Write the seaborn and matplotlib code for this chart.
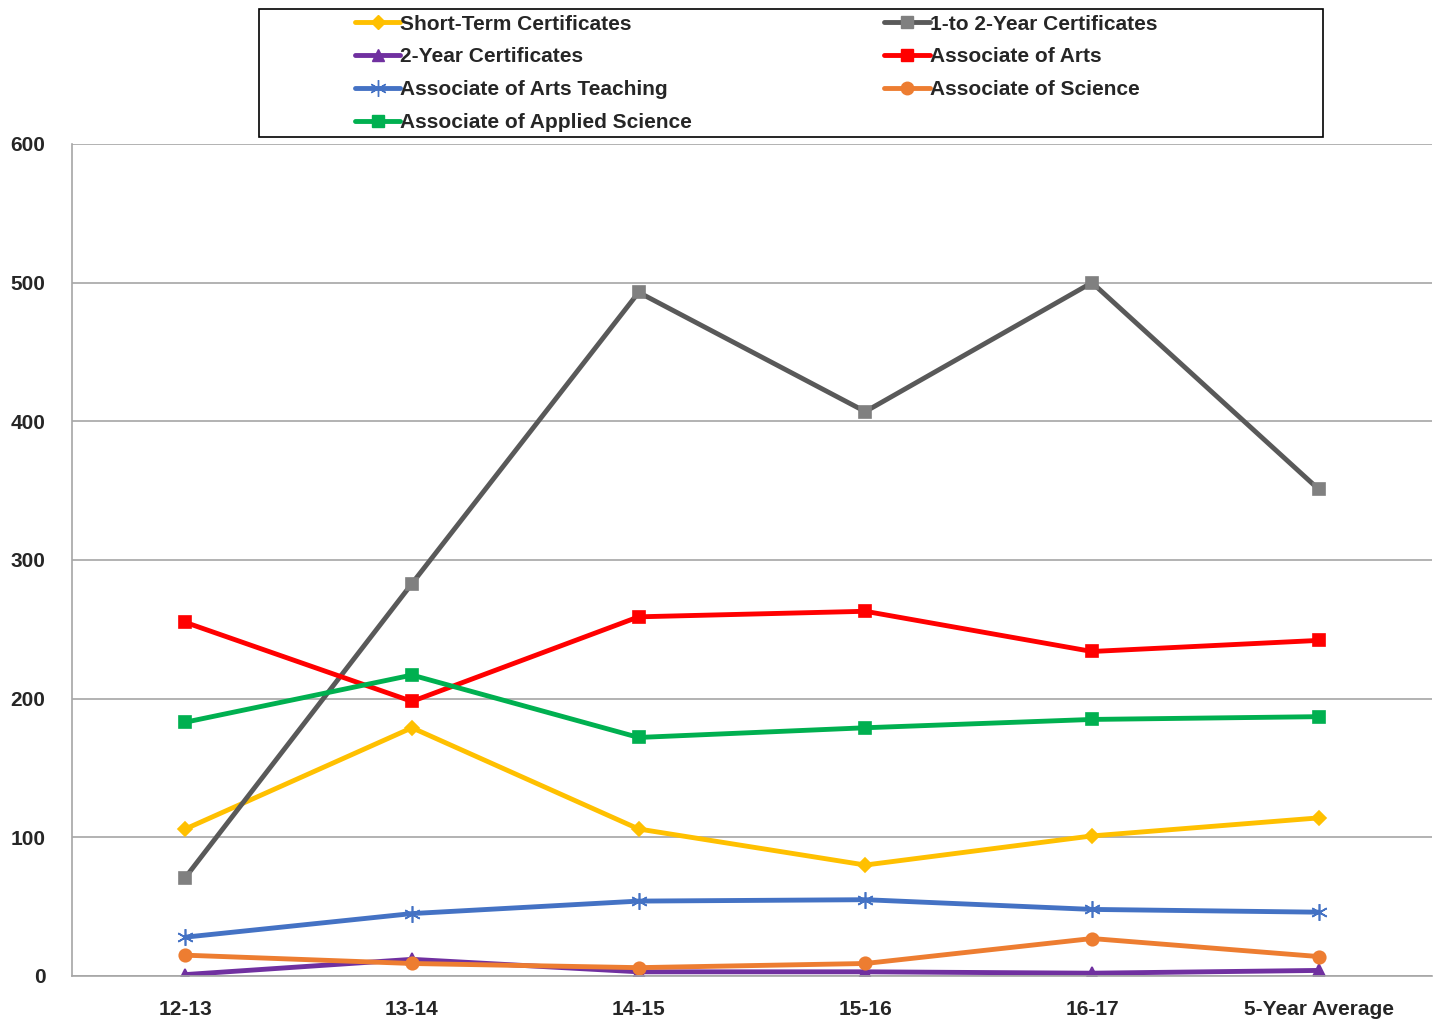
import numpy as np
import pandas as pd
import matplotlib
matplotlib.use("Agg")
import matplotlib.pyplot as plt
import seaborn as sns
from matplotlib.lines import Line2D
from matplotlib.patches import Rectangle

years = ['12-13', '13-14', '14-15', '15-16', '16-17', '5-Year Average']

short_term = [106, 179, 106, 80, 101, 114]
one_to_two = [71, 283, 493, 407, 500, 351]
two_year = [1, 12, 3, 3, 2, 4]
assoc_arts = [255, 198, 259, 263, 234, 242]
assoc_arts_teach = [28, 45, 54, 55, 48, 46]
assoc_sci = [15, 9, 6, 9, 27, 14]
assoc_applied = [183, 217, 172, 179, 185, 187]

series_names = ['Short-Term Certificates', '1-to 2-Year Certificates', '2-Year Certificates',
                'Associate of Arts', 'Associate of Arts Teaching', 'Associate of Science',
                'Associate of Applied Science']
series_vals = [short_term, one_to_two, two_year, assoc_arts, assoc_arts_teach, assoc_sci, assoc_applied]

# line colour, marker colour, marker, marker size
styles = {
    'Short-Term Certificates': ('#FFC000', '#FFC000', 'D', 7),
    '1-to 2-Year Certificates': ('#595959', '#808080', 's', 9),
    '2-Year Certificates': ('#7030A0', '#7030A0', '^', 9),
    'Associate of Arts': ('#FF0000', '#FF0000', 's', 9),
    'Associate of Arts Teaching': ('#4472C4', '#4472C4', (6, 2, 0), 12),
    'Associate of Science': ('#ED7D31', '#ED7D31', 'o', 9),
    'Associate of Applied Science': ('#00B050', '#00B050', 's', 9),
}

sns.set_style("white")
plt.rcParams['font.family'] = ['Liberation Sans', 'DejaVu Sans']

fig = plt.figure(figsize=(14.37, 10.21), dpi=100)
ax = fig.add_axes([0.0501, 0.0441, 0.9464, 0.8149])

handles = {}
for name, vals in zip(series_names, series_vals):
    lc, mc, mk, ms = styles[name]
    df = pd.DataFrame({'year': years, 'value': vals})
    sns.lineplot(data=df, x='year', y='value', ax=ax, color=lc, linewidth=3.5,
                 marker=mk, markersize=ms, markerfacecolor=mc, markeredgecolor=mc,
                 markeredgewidth=1.2, sort=False)
    handles[name] = Line2D([0], [0], color=lc, linewidth=3.5, marker=mk, markersize=ms,
                           markerfacecolor=mc, markeredgecolor=mc, label=name)

ax.set_xlim(-0.5, 5.5)
ax.set_ylim(0, 600)
ax.set_yticks(range(0, 601, 100))
ax.set_xlabel('')
ax.set_ylabel('')
ax.grid(axis='y', color='#A6A6A6', linewidth=1.2)
ax.set_axisbelow(True)
for s in ['top', 'right']:
    ax.spines[s].set_visible(False)
for s in ['left', 'bottom']:
    ax.spines[s].set_color('#A6A6A6')
    ax.spines[s].set_linewidth(1.2)

ax.set_xticks(range(len(years)))
ax.set_xticklabels(years, fontsize=15, fontweight='bold')
ax.set_xticks(np.arange(-0.5, 6, 1), minor=True)
ax.tick_params(axis='x', which='major', length=0, pad=17)
ax.tick_params(axis='x', which='minor', length=7, color='#A6A6A6', width=1.2)
ax.tick_params(axis='y', length=7, color='#A6A6A6', width=1.2, labelsize=15, pad=12)
for lbl in ax.get_yticklabels():
    lbl.set_fontweight('bold')

# legend entries row by row, as in the reference (matplotlib fills columns first)
order = [0, 2, 4, 6, 1, 3, 5]
leg_handles = [handles[series_names[i]] for i in order]
leg = fig.legend(handles=leg_handles, ncol=2, loc='upper left',
                 bbox_to_anchor=(339 / 1437, 1 + 1 / 1021),
                 frameon=False, prop={'size': 15, 'weight': 'bold'}, handlelength=2.2,
                 handletextpad=0.0, labelspacing=0.66, borderpad=0.25,
                 columnspacing=9.2)
fig.patches.append(Rectangle((259 / 1437, 1 - 137 / 1021), 1064 / 1437, 128 / 1021,
                             transform=fig.transFigure, fill=False, edgecolor='black',
                             linewidth=1.2))

fig.savefig('out.png', dpi=100)
